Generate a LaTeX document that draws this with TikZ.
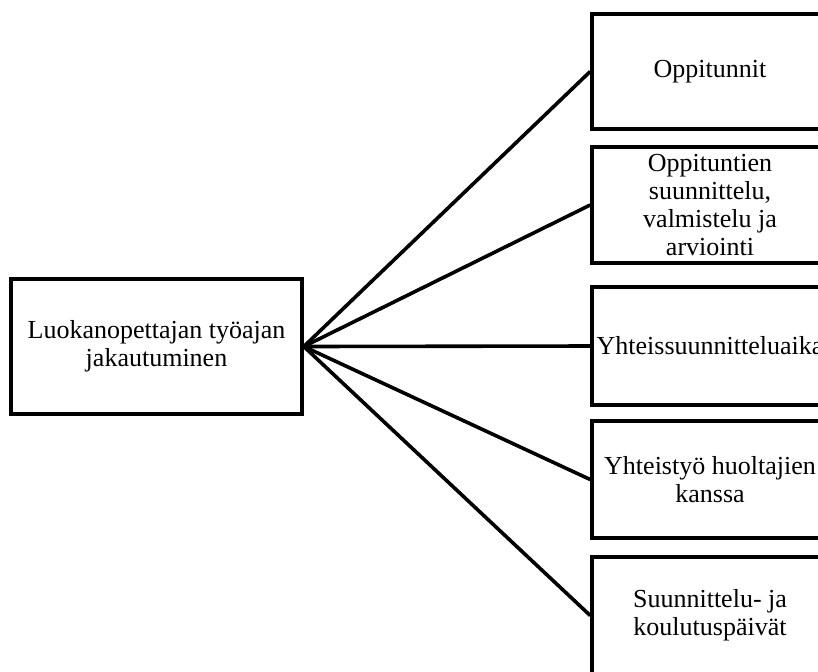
\documentclass[tikz,border=0pt]{standalone}
\usepackage{fontspec}
\setmainfont{Liberation Serif}
\tikzset{
  box/.style={draw, line width=1.8pt, align=center, inner sep=0pt,
    font=\fontsize{13}{14}\selectfont},
  link/.style={line width=1.8pt}
}
\begin{document}
\begin{tikzpicture}[x=0.5pt,y=-0.5pt]
\path[use as bounding box,clip] (0,0) rectangle (818,671);

\node[box, minimum width=145.5pt, minimum height=67.5pt] (work) at (156.5,346.5)
  {Luokanopettajan työajan\\jakautuminen};

\node[box, minimum width=118pt, minimum height=57.5pt] (lessons) at (710,71.5) {Oppitunnit};
\node[box, minimum width=118pt, minimum height=58pt] (prep) at (710,205)
  {Oppituntien\\suunnittelu,\\valmistelu ja\\arviointi};
\node[box, minimum width=118pt, minimum height=59pt] (joint) at (710,346) {Yhteissuunnitteluaika};
\node[box, minimum width=118pt, minimum height=58.5pt] (parents) at (710,479.5)
  {Yhteistyö huoltajien\\kanssa};
\node[box, minimum width=118pt, minimum height=58.5pt] (days) at (710,615.5)
  {Suunnittelu- ja\\koulutuspäivät};

\foreach \b in {lessons,prep,joint,parents,days}
  \draw[link] (work.east) -- (\b.west);
\end{tikzpicture}
\end{document}
